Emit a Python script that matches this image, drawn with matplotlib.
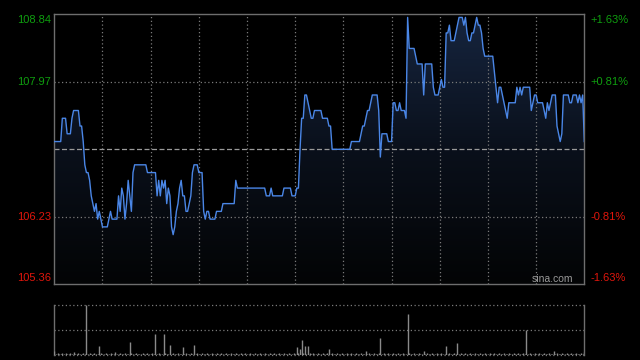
import numpy as np
import matplotlib
matplotlib.use('Agg')
import matplotlib.pyplot as plt
from matplotlib.colors import LinearSegmentedColormap
from matplotlib.patches import Polygon

# ---------------- data ----------------
prev_close = 107.10
price_ticks = [105.36, 106.23, 107.10, 107.97, 108.84]
left_labels = ['105.36', '106.23', '', '107.97', '108.84']
right_labels = ['-1.63%', '-0.81%', '', '+0.81%', '+1.63%']
n_minutes = 330  # 09:30-12:00, 13:00-16:00

price = [
    107.2, 107.2, 107.2, 107.2, 107.2, 107.5, 107.5, 107.5, 107.3, 107.3,
    107.3, 107.5, 107.6, 107.6, 107.6, 107.6, 107.4, 107.4, 107.2, 106.9,
    106.8, 106.8, 106.7, 106.5, 106.4, 106.3, 106.4, 106.2, 106.3, 106.2,
    106.1, 106.1, 106.1, 106.1, 106.2, 106.3, 106.2, 106.2, 106.2, 106.2,
    106.5, 106.3, 106.6, 106.5, 106.2, 106.4, 106.7, 106.5, 106.3, 106.8,
    106.9, 106.9, 106.9, 106.9, 106.9, 106.9, 106.9, 106.9, 106.8, 106.8,
    106.8, 106.8, 106.8, 106.8, 106.5, 106.7, 106.5, 106.7, 106.6, 106.7,
    106.4, 106.6, 106.5, 106.1, 106.0, 106.1, 106.3, 106.4, 106.6, 106.7,
    106.5, 106.5, 106.3, 106.3, 106.4, 106.5, 106.8, 106.9, 106.9, 106.9,
    106.8, 106.8, 106.8, 106.3, 106.2, 106.3, 106.3, 106.2, 106.2, 106.2,
    106.2, 106.3, 106.3, 106.3, 106.3, 106.4, 106.4, 106.4, 106.4, 106.4,
    106.4, 106.4, 106.4, 106.7, 106.6, 106.6, 106.6, 106.6, 106.6, 106.6,
    106.6, 106.6, 106.6, 106.6, 106.6, 106.6, 106.6, 106.6, 106.6, 106.6,
    106.6, 106.6, 106.5, 106.5, 106.5, 106.6, 106.5, 106.5, 106.5, 106.5,
    106.5, 106.5, 106.5, 106.6, 106.6, 106.6, 106.6, 106.6, 106.5, 106.5,
    106.5, 106.6, 106.6, 107.1, 107.5, 107.5, 107.8, 107.8, 107.7, 107.6,
    107.5, 107.5, 107.6, 107.6, 107.6, 107.6, 107.6, 107.5, 107.5, 107.5,
    107.5, 107.4, 107.4, 107.1, 107.1, 107.1, 107.1, 107.1, 107.1, 107.1,
    107.1, 107.1, 107.1, 107.1, 107.1, 107.2, 107.2, 107.2, 107.2, 107.2,
    107.2, 107.3, 107.4, 107.4, 107.5, 107.6, 107.6, 107.7, 107.8, 107.8,
    107.8, 107.8, 107.6, 107.0, 107.3, 107.3, 107.3, 107.3, 107.2, 107.2,
    107.2, 107.7, 107.7, 107.6, 107.6, 107.7, 107.6, 107.6, 107.6, 107.5,
    108.8, 108.4, 108.4, 108.4, 108.4, 108.3, 108.2, 108.2, 108.2, 108.2,
    107.8, 108.2, 108.2, 108.2, 108.2, 108.2, 107.9, 107.8, 107.8, 107.8,
    107.9, 108.0, 107.9, 107.9, 108.6, 108.6, 108.7, 108.5, 108.5, 108.5,
    108.6, 108.7, 108.8, 108.8, 108.8, 108.7, 108.8, 108.6, 108.5, 108.5,
    108.6, 108.6, 108.7, 108.8, 108.7, 108.7, 108.6, 108.4, 108.3, 108.3,
    108.3, 108.3, 108.3, 108.3, 108.1, 107.9, 107.7, 107.9, 107.9, 107.8,
    107.7, 107.6, 107.5, 107.7, 107.7, 107.7, 107.7, 107.7, 107.9, 107.8,
    107.9, 107.8, 107.9, 107.9, 107.9, 107.9, 107.9, 107.6, 107.7, 107.8,
    107.8, 107.7, 107.7, 107.7, 107.7, 107.6, 107.5, 107.7, 107.6, 107.7,
    107.8, 107.8, 107.8, 107.4, 107.3, 107.2, 107.3, 107.8, 107.8, 107.8,
    107.8, 107.7, 107.7, 107.8, 107.8, 107.8, 107.7, 107.8, 107.7, 107.8,
    107.2,
]

volume = [
    4, 1, 2, 1, 1, 2, 1, 2, 1, 1, 2, 1, 3, 1, 1, 2, 1, 1, 2, 1,
    50, 1, 2, 1, 1, 2, 1, 1, 9, 2, 1, 1, 2, 1, 1, 2, 1, 1, 3, 1,
    1, 2, 1, 1, 2, 1, 1, 13, 2, 1, 1, 2, 1, 1, 1, 2, 1, 1, 2, 1,
    1, 2, 1, 21, 1, 2, 1, 1, 21, 2, 1, 1, 10, 1, 2, 1, 1, 2, 1, 1,
    8, 1, 2, 1, 1, 2, 1, 10, 1, 2, 1, 1, 2, 1, 1, 2, 1, 1, 2, 1,
    1, 2, 1, 1, 2, 1, 1, 2, 1, 1, 2, 1, 1, 2, 1, 1, 2, 1, 1, 2,
    1, 1, 2, 1, 1, 2, 1, 1, 2, 1, 1, 2, 1, 1, 2, 1, 1, 2, 1, 1,
    2, 1, 1, 2, 1, 1, 2, 1, 1, 2, 1, 8, 2, 6, 15, 2, 9, 1, 9, 2,
    1, 2, 1, 1, 2, 1, 1, 2, 1, 1, 2, 6, 1, 2, 1, 1, 2, 1, 1, 2,
    1, 1, 2, 1, 1, 2, 1, 1, 2, 1, 1, 2, 1, 1, 4, 1, 2, 1, 1, 2,
    1, 1, 2, 17, 1, 2, 1, 1, 2, 1, 1, 2, 1, 1, 2, 1, 1, 2, 1, 1,
    41, 2, 1, 1, 2, 1, 1, 2, 1, 1, 4, 1, 2, 1, 1, 2, 1, 1, 2, 1,
    1, 2, 1, 1, 9, 1, 2, 1, 1, 2, 1, 12, 1, 2, 1, 1, 2, 1, 1, 2,
    1, 1, 2, 1, 1, 2, 1, 1, 2, 1, 1, 2, 1, 1, 2, 1, 1, 2, 1, 1,
    2, 1, 1, 2, 1, 1, 2, 1, 1, 2, 1, 1, 2, 1, 25, 1, 2, 1, 1, 2,
    1, 1, 2, 1, 1, 2, 1, 1, 2, 1, 1, 4, 1, 2, 1, 1, 2, 1, 1, 2,
    1, 1, 2, 1, 1, 2, 1, 1, 2, 1, 3,
]

# ---------------- style ----------------
plt.rcParams['font.family'] = ['Liberation Sans', 'DejaVu Sans']
GREEN = '#0f9e0f'
RED = '#e0160c'
LINE = '#4a86e6'
SPINE = '#6e6e6e'
GRID = '#7a7a7a'

W, H = 640, 360
fig = plt.figure(figsize=(W / 100, H / 100), dpi=100, facecolor='black')

L, R = 54.3, 584.3
T, B = 14.3, 284.3
ax = fig.add_axes([L / W, 1 - B / H, (R - L) / W, (B - T) / H])
ax.set_facecolor('black')
x = np.arange(len(price))
ylo, yhi = price_ticks[0], price_ticks[-1]
ax.set_xlim(0, n_minutes)
ax.set_ylim(ylo, yhi)

# gradient fill under the line
grad = np.linspace(0, 1, 256).reshape(-1, 1)
cmap = LinearSegmentedColormap.from_list('g', ['#030405', '#0a101b', '#16253f'])
im = ax.imshow(grad, aspect='auto', cmap=cmap, origin='lower',
               extent=[0, n_minutes, ylo, yhi], zorder=1, interpolation='bilinear')
verts = [(x[0], ylo)] + list(zip(x, price)) + [(x[-1], ylo)]
patch = Polygon(verts, closed=True, facecolor='none', edgecolor='none')
ax.add_patch(patch)
im.set_clip_path(patch)

# grid
for m in range(30, n_minutes, 30):
    ax.axvline(m, color=GRID, lw=0.9, ls=(0, (1, 2)), zorder=2)
for p in price_ticks[1:-1]:
    if abs(p - prev_close) < 1e-6:
        ax.axhline(p, color='#9a9a9a', lw=0.9, ls=(0, (4, 2)), zorder=2)
    else:
        ax.axhline(p, color=GRID, lw=0.9, ls=(0, (1, 2)), zorder=2)

ax.plot(x, price, color=LINE, lw=1.0, zorder=3, solid_joinstyle='round')

for s in ax.spines.values():
    s.set_color(SPINE)
    s.set_linewidth(1.0)
ax.set_xticks([])
ax.set_yticks([])

# axis labels
for i, p in enumerate(price_ticks):
    if not left_labels[i]:
        continue
    col = GREEN if p > prev_close else RED
    dy = 0
    if i == 0:
        dy = 6
    elif i == len(price_ticks) - 1:
        dy = -6
    ax.annotate(left_labels[i], xy=(0, p), xycoords=('axes fraction', 'data'),
                xytext=(-3, dy), textcoords='offset pixels', ha='right', va='center',
                color=col, fontsize=8)
    ax.annotate(right_labels[i], xy=(1, p), xycoords=('axes fraction', 'data'),
                xytext=(6, dy), textcoords='offset pixels', ha='left', va='center',
                color=col, fontsize=8)

ax.text((573.5 - L) / (R - L), (B - 279) / (B - T), 'sina.com', transform=ax.transAxes,
        ha='right', va='center', color='#9a9a9a', fontsize=7.5)

# volume panel
VT, VB = 305, 355
ax2 = fig.add_axes([L / W, 1 - VB / H, (R - L) / W, (VB - VT) / H])
ax2.set_facecolor('black')
ax2.set_xlim(0, n_minutes)
vmax = max(volume)
ax2.set_ylim(0, vmax)
ax2.vlines(np.arange(len(volume)), 0, volume, color='#8a8a8a', lw=1.0, zorder=3)
for v in [vmax, vmax / 2, 0]:
    ax2.axhline(v, color=GRID, lw=0.9, ls=(0, (1, 2)), zorder=2, clip_on=False)
for k in ['top', 'bottom']:
    ax2.spines[k].set_visible(False)
for k in ['left', 'right']:
    ax2.spines[k].set_color(SPINE)
    ax2.spines[k].set_linewidth(1.0)
ax2.set_xticks([])
ax2.set_yticks([])

fig.savefig('out.png', dpi=100, facecolor='black')
